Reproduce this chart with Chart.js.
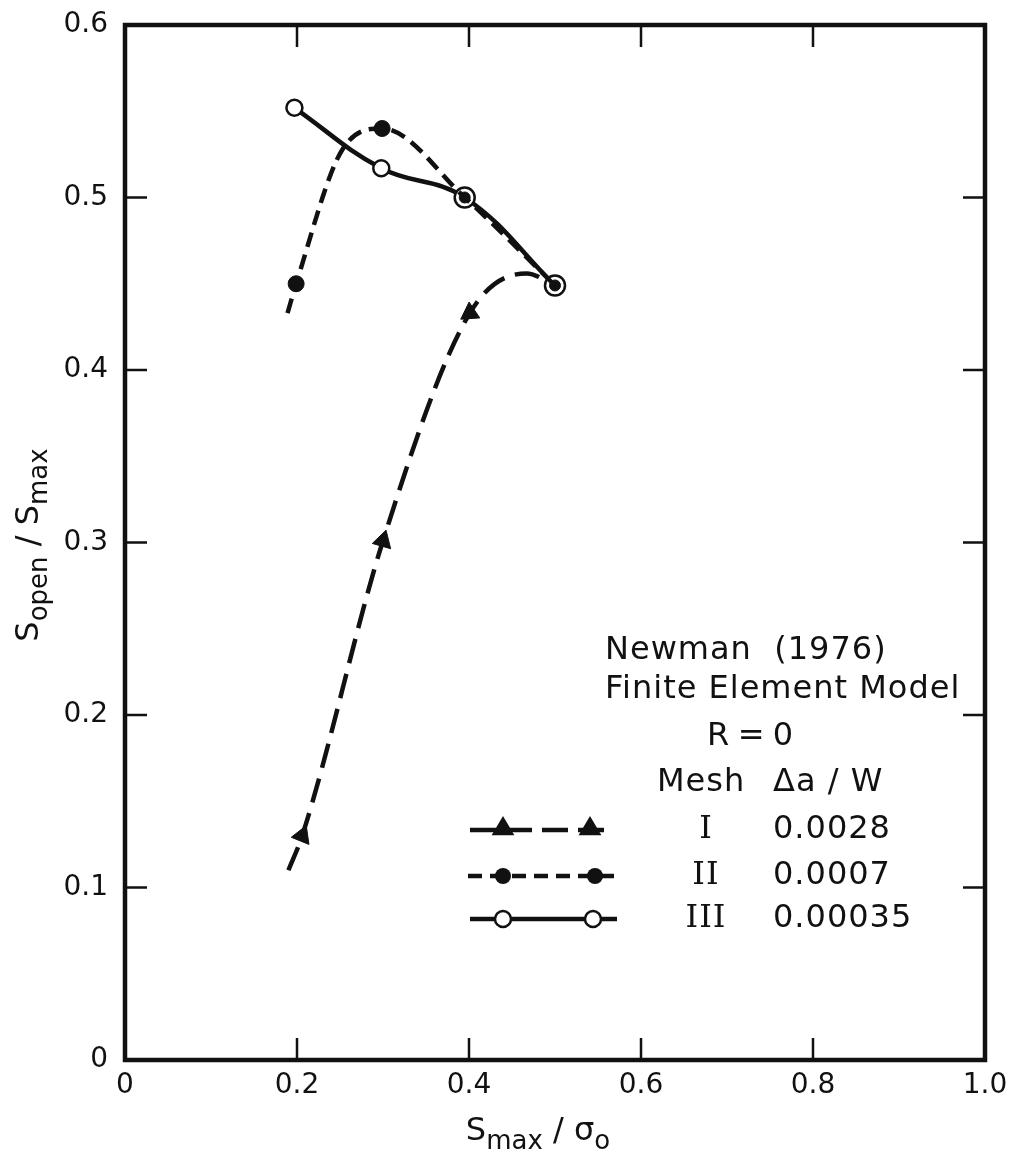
<!DOCTYPE html>
<html>
<head>
<meta charset="UTF-8">
<title>Newman (1976) finite element model</title>
<script src="https://cdn.jsdelivr.net/npm/chart.js@4.4.1/dist/chart.umd.min.js"></script>
<style>
  body { margin: 0; background: #fff; }
  #box { width: 1013px; height: 1158px; }
</style>
</head>
<body>
<div id="box"><canvas id="chart" width="1013" height="1158"></canvas></div>
<script>
// values (Smax/sigma0 , Sopen/Smax)
// "mark" = 1 where a symbol is plotted, 0 where the point only carries the curve
const meshIx    = [0.190, 0.206, 0.300, 0.401, 0.467, 0.500];
const meshIy    = [0.110, 0.130, 0.301, 0.433, 0.456, 0.449];
const meshIMark = [0, 1, 1, 1, 0, 0];

const meshIIx    = [0.189, 0.199, 0.253, 0.299, 0.395, 0.500];
const meshIIy    = [0.433, 0.450, 0.528, 0.540, 0.500, 0.449];
const meshIIMark = [0, 1, 0, 1, 1, 1];

const meshIIIx = [0.197, 0.298, 0.395, 0.500];
const meshIIIy = [0.552, 0.517, 0.500, 0.449];

const xTicks = [0, 0.2, 0.4, 0.6, 0.8, 1.0];
const yTicks = [0, 0.1, 0.2, 0.3, 0.4, 0.5, 0.6];

const meshNames = ['I', 'II', 'III'];
const meshDaW   = ['0.0028', '0.0007', '0.00035'];

const INK = '#111';
const FONT = 'DejaVu Sans';

function pts(xs, ys) { return xs.map((x, i) => ({x: x, y: ys[i]})); }

// triangle heads follow the curve direction
const triRot = [0, 22, 16, 236, 0, 0];

const datasets = [
  {
    label: 'II',
    data: pts(meshIIx, meshIIy),
    borderColor: INK, borderWidth: 4.5, borderDash: [15, 8],
    pointStyle: 'circle',
    pointRadius: meshIIMark.map((m, i) => m ? (meshIIx[i] > 0.35 ? 5.5 : 8) : 0),
    pointBackgroundColor: INK, pointBorderColor: INK, pointBorderWidth: 1,
    cubicInterpolationMode: 'monotone',
    order: 0
  },
  {
    label: 'III',
    data: pts(meshIIIx, meshIIIy),
    borderColor: INK, borderWidth: 4.5,
    pointStyle: 'circle',
    pointRadius: meshIIIx.map(x => x > 0.35 ? 10 : 8),
    pointBackgroundColor: '#fff', pointBorderColor: INK, pointBorderWidth: 2.5,
    tension: 0.4,
    order: 1
  },
  {
    label: 'I',
    data: pts(meshIx, meshIy),
    borderColor: INK, borderWidth: 4.5, borderDash: [25, 11],
    pointStyle: 'triangle',
    pointRotation: triRot,
    pointRadius: meshIMark.map(m => m ? 11 : 0),
    pointBackgroundColor: INK, pointBorderColor: INK, pointBorderWidth: 1,
    cubicInterpolationMode: 'monotone',
    order: 2
  }
];

function drawParts(ctx, parts, cx, cy, angle) {
  ctx.save();
  ctx.translate(cx, cy);
  ctx.rotate(angle);
  ctx.textAlign = 'left';
  ctx.textBaseline = 'alphabetic';
  let total = 0;
  parts.forEach(p => { ctx.font = p.font; p.w = ctx.measureText(p.t).width; total += p.w; });
  let x = -total / 2;
  parts.forEach(p => { ctx.font = p.font; ctx.fillText(p.t, x, p.dy); x += p.w; });
  ctx.restore();
}

function tri(ctx, x, y, r) {
  ctx.beginPath();
  ctx.moveTo(x, y - r);
  ctx.lineTo(x + r * 0.95, y + r * 0.6);
  ctx.lineTo(x - r * 0.95, y + r * 0.6);
  ctx.closePath();
  ctx.fill();
}

const paper = {
  id: 'paper',
  beforeDatasetsDraw(chart) {
    const {ctx, chartArea: a, scales} = chart;
    ctx.save();
    ctx.strokeStyle = INK;
    ctx.lineWidth = 4.5;
    ctx.strokeRect(a.left, a.top, a.right - a.left, a.bottom - a.top);
    ctx.lineWidth = 2.5;
    const len = 22;
    xTicks.slice(1, -1).forEach(v => {
      const px = scales.x.getPixelForValue(v);
      ctx.beginPath();
      ctx.moveTo(px, a.bottom); ctx.lineTo(px, a.bottom - len);
      ctx.moveTo(px, a.top); ctx.lineTo(px, a.top + len);
      ctx.stroke();
    });
    yTicks.slice(1, -1).forEach(v => {
      const py = scales.y.getPixelForValue(v);
      ctx.beginPath();
      ctx.moveTo(a.left, py); ctx.lineTo(a.left + len, py);
      ctx.moveTo(a.right, py); ctx.lineTo(a.right - len, py);
      ctx.stroke();
    });
    ctx.restore();
  },
  afterDraw(chart) {
    const ctx = chart.ctx;
    ctx.save();
    ctx.fillStyle = INK;
    ctx.strokeStyle = INK;

    // axis titles with subscripts
    const big = '32px ' + FONT, small = '26px ' + FONT;
    drawParts(ctx, [
      {t: 'S', font: big, dy: 0}, {t: 'max', font: small, dy: 9},
      {t: ' / ', font: big, dy: 0}, {t: 'σ', font: big, dy: 0}, {t: 'o', font: small, dy: 9}
    ], 538, 1140, 0);
    drawParts(ctx, [
      {t: 'S', font: big, dy: 0}, {t: 'open', font: small, dy: 9},
      {t: ' / ', font: big, dy: 0}, {t: 'S', font: big, dy: 0}, {t: 'max', font: small, dy: 9}
    ], 38, 545, -Math.PI / 2);

    // key block
    ctx.font = '32px ' + FONT;
    ctx.textBaseline = 'middle';
    ctx.textAlign = 'left';
    ctx.letterSpacing = '1px';
    ctx.fillText('Newman  (1976)', 605, 651);
    ctx.fillText('Finite Element Model', 605, 690);
    ctx.fillText('R\u2009=\u20090', 707, 737);
    ctx.fillText('Mesh', 657, 783);
    ctx.fillText('\u0394a / W', 773, 783);

    const rowsY = [830, 876, 919];
    meshNames.forEach((n, i) => {
      ctx.font = '32px "DejaVu Serif"';
      ctx.textAlign = 'center';
      ctx.fillText(n, 706, rowsY[i]);
      ctx.font = '32px ' + FONT;
      ctx.textAlign = 'left';
      ctx.fillText(meshDaW[i], 773, rowsY[i]);
    });

    ctx.lineWidth = 4.5;
    // I
    ctx.setLineDash([26, 10]);
    ctx.beginPath(); ctx.moveTo(470, rowsY[0]); ctx.lineTo(612, rowsY[0]); ctx.stroke();
    tri(ctx, 503, rowsY[0] - 2, 12);
    tri(ctx, 590, rowsY[0] - 2, 12);
    // II
    ctx.setLineDash([14, 8]);
    ctx.beginPath(); ctx.moveTo(468, rowsY[1]); ctx.lineTo(620, rowsY[1]); ctx.stroke();
    [503, 595].forEach(x => { ctx.beginPath(); ctx.arc(x, rowsY[1], 8, 0, Math.PI * 2); ctx.fill(); });
    // III
    ctx.setLineDash([]);
    ctx.beginPath(); ctx.moveTo(470, rowsY[2]); ctx.lineTo(617, rowsY[2]); ctx.stroke();
    ctx.lineWidth = 2.5;
    ctx.fillStyle = '#fff';
    [503, 593].forEach(x => {
      ctx.beginPath(); ctx.arc(x, rowsY[2], 8, 0, Math.PI * 2); ctx.fill(); ctx.stroke();
    });
    ctx.restore();
  }
};

const tickLabel = v => Math.abs(v) < 1e-9 ? '0' : v.toFixed(1);

new Chart(document.getElementById('chart'), {
  type: 'line',
  data: {datasets: datasets},
  options: {
    responsive: false,
    animation: false,
    devicePixelRatio: 1,
    layout: {padding: {left: 0, top: 25, right: 28, bottom: 0}},
    plugins: {legend: {display: false}, tooltip: {enabled: false}},
    scales: {
      x: {
        type: 'linear', min: 0, max: 1,
        afterFit: s => { s.height = 98; s.paddingLeft = 0; s.paddingRight = 0; },
        afterBuildTicks: s => { s.ticks = xTicks.map(v => ({value: v})); },
        grid: {display: false, drawTicks: false},
        border: {display: false},
        ticks: {callback: tickLabel, color: INK, padding: 9, font: {family: FONT, size: 28}, maxRotation: 0}
      },
      y: {
        type: 'linear', min: 0, max: 0.6,
        afterFit: s => { s.width = 125; s.paddingTop = 0; s.paddingBottom = 0; },
        afterBuildTicks: s => { s.ticks = yTicks.map(v => ({value: v})); },
        grid: {display: false, drawTicks: false},
        border: {display: false},
        ticks: {callback: tickLabel, color: INK, padding: 17, font: {family: FONT, size: 28}}
      }
    }
  },
  plugins: [paper]
});
</script>
</body>
</html>
